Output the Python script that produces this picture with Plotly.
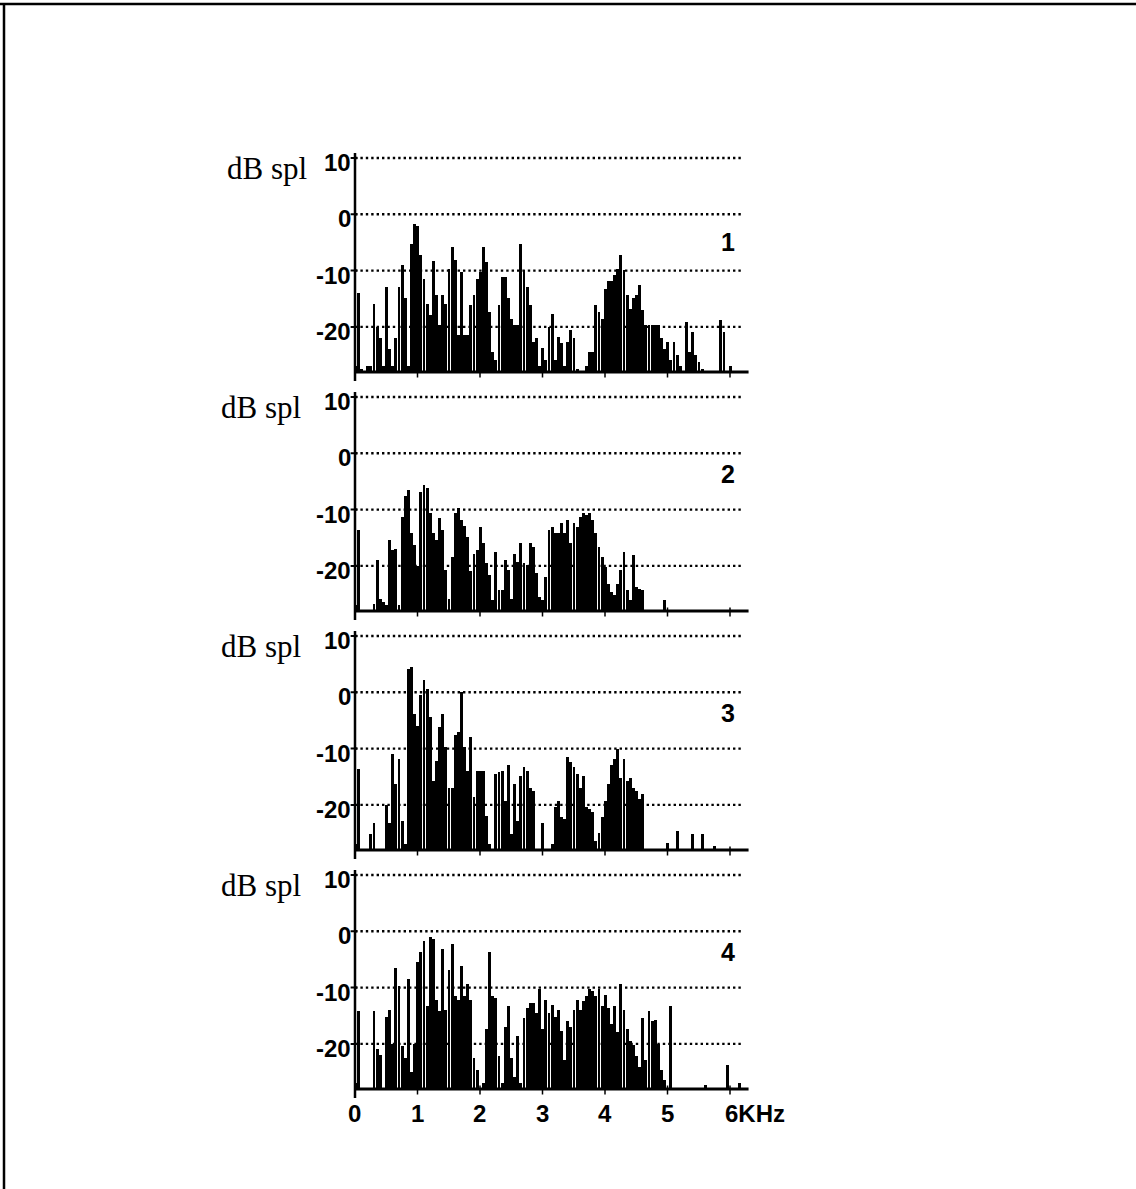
import plotly.graph_objects as go

# Frequency bins (kHz), 50 Hz apart, 0 .. 6.25 kHz
FREQ_KHZ = [round(0.05 * i, 2) for i in range(126)]

FLOOR_DB = -28

# Spectrum levels (dB spl) per bin for the four spectra
LEVEL_1 = [
    -27, -14, -27.5, -28, -27, -27, -16, -20, -22, -27,
    -13, -24, -27, -22, -13, -9, -15, -27, -5.3, -1.7,
    -2.2, -7.3, -11.5, -16, -18, -8.4, -14.4, -19.8, -14.4, -16,
    -9.7, -5.9, -8.2, -21.5, -10.3, -21.5, -21.5, -16.2, -14.4, -11.5,
    -10.3, -5.9, -8.5, -17.4, -24.5, -26, -16.2, -11.2, -11.2, -15,
    -18.6, -19.8, -19.8, -5.3, -10, -13, -16.2, -22.7, -22.1, -27,
    -23.9, -26, -20.1, -17.7, -26, -21.8, -23, -27, -22.7, -20.7,
    -22.1, -27.5, -28, -28, -27, -24.5, -24.5, -16.2, -17.4, -18.6,
    -13.3, -12, -12, -10.9, -9.7, -7.3, -10, -14.4, -16.8, -15,
    -14.4, -12.7, -17, -19.8, -19.8, -19.8, -19.8, -19.8, -22.1, -24,
    -22.7, -26, -22.7, -25, -27, -28, -19.2, -24.5, -21, -25,
    -26.3, -27.5, -28, -28, -28, -28, -28, -18.9, -21, -28,
    -27, -28, -28, -28, -28, -28,
]

LEVEL_2 = [
    -27, -13.6, -28, -28, -28, -28, -26.8, -19, -26, -26.5,
    -27, -15.5, -17.3, -17, -27, -11.3, -7.7, -6.5, -14.3, -16.4,
    -20, -7, -5.7, -6.3, -10.7, -14.3, -15.5, -11.6, -13.7, -20.8,
    -26, -18.5, -10.7, -9.8, -12, -13, -15, -21, -17.9, -17.3,
    -13.1, -16, -19.6, -21.7, -26.2, -17.6, -24.4, -24.4, -19, -20.8,
    -26, -17.9, -19.3, -16, -19.6, -19.9, -16, -16.7, -21.4, -25.6,
    -26.2, -22, -13.7, -13.1, -14.3, -14.3, -12.5, -14.3, -11.9, -16,
    -12.5, -13.1, -11.3, -10.7, -11, -10.7, -11.9, -14.3, -16.7, -18.5,
    -20.2, -23.2, -24.7, -25.3, -23.2, -20.8, -17.6, -24.4, -26.2, -18.2,
    -23.8, -24.1, -24.4, -28, -28, -28, -28, -28, -28, -26.2,
    -28, -28, -28, -28, -28, -28, -28, -28, -28, -28,
    -28, -28, -28, -28, -28, -28, -28, -28, -28, -28,
    -28, -28, -28, -28, -28, -28,
]

LEVEL_3 = [
    -27, -13.7, -28, -28, -28, -25.3, -23.2, -28, -28, -28,
    -20, -23.2, -11, -16.4, -11.9, -23, -27, 4, 4.5, -3.9,
    -6, -0.5, 2.2, 0.5, -4.5, -15.8, -12.2, -6.3, -3.9, -9.8,
    -17, -17, -7.7, -7.1, 0, -9.8, -14, -8, -18.7, -14,
    -14, -14, -22, -27, -28, -14.6, -14.3, -14, -19.3, -13,
    -25.3, -16.4, -23, -14.9, -13.4, -14, -17, -17.6, -28, -28,
    -23.2, -28, -28, -27, -20.5, -19.3, -22.3, -22.5, -11.6, -12.5,
    -13.4, -14.6, -17, -14.9, -20.5, -20.8, -21.4, -26.5, -25, -22.3,
    -19.3, -16.4, -13, -12, -10.1, -15.2, -11.9, -15.8, -15.2, -17,
    -17.6, -19, -18.2, -28, -28, -28, -28, -28, -28, -28,
    -26.8, -28, -28, -24.7, -28, -28, -28, -28, -25.3, -28,
    -28, -25.3, -28, -28, -28, -27.4, -28, -28, -28, -28,
    -28, -28, -28, -28, -28, -28,
]

LEVEL_4 = [
    -27, -14.3, -28, -28, -28, -28, -14.3, -21, -22, -28,
    -15.2, -14, -20, -6.5, -9.8, -20.5, -22.6, -8.6, -25, -20,
    -5.5, -3.8, -1.7, -13.4, -1.1, -1.5, -12.2, -14.3, -3.2, -14,
    -7, -2.3, -11.6, -12.2, -6.2, -11.6, -9.5, -12.2, -22.6, -24.7,
    -28, -27, -17.5, -3.8, -11.6, -12, -22.3, -27, -17, -13.4,
    -22.6, -25.9, -18.7, -27, -15.5, -13.7, -12.8, -12.8, -14.6, -10.4,
    -17.5, -12.2, -14.6, -13.1, -15.2, -14, -17.8, -22.9, -16, -17,
    -14, -12.2, -14, -12.5, -11.6, -10.4, -10.7, -11.6, -10.4, -13.4,
    -11.3, -13.7, -16.6, -13.4, -18, -9.5, -14, -17.5, -19.6, -20.2,
    -22.3, -24.1, -15.5, -22.9, -14.3, -16, -15.8, -20, -24.7, -26.5,
    -28, -13.4, -28, -28, -28, -28, -28, -28, -28, -28,
    -28, -28, -27.4, -28, -28, -28, -28, -28, -28, -23.8,
    -28, -28, -28, -27, -28, -28,
]

SPECTRA = [LEVEL_1, LEVEL_2, LEVEL_3, LEVEL_4]
PANEL_LABELS = ["1", "2", "3", "4"]
GRID_DB = [10, 0, -10, -20]
GRID_TEXT = ["10", "0", "-10", "-20"]
X_TICKS = [0, 1, 2, 3, 4, 5, 6]
X_TICK_TEXT = ["0", "1", "2", "3", "4", "5", "6KHz"]

W, H = 1136, 1189
X_RANGE = [-0.1, 6.3]
Y_RANGE = [-30, 11]
PX_PER_KHZ = 62.5
PX_PER_DB = 5.63
X0_PX = 355                       # pixel of 0 kHz
TOP10_PX = [158, 397, 636, 875]   # pixel of the +10 dB line in each panel

BOLD = "Liberation Sans, Arial, sans-serif"
SERIF = "Liberation Serif, Times New Roman, serif"

fig = go.Figure()
shapes = []
annotations = []

for k, levels in enumerate(SPECTRA):
    n = k + 1
    xa = "x" if n == 1 else f"x{n}"
    ya = "y" if n == 1 else f"y{n}"

    fig.add_trace(go.Bar(
        x=FREQ_KHZ,
        y=[v - FLOOR_DB for v in levels],
        base=FLOOR_DB,
        width=0.046,
        marker=dict(color="black", line=dict(width=0)),
        xaxis=xa, yaxis=ya, showlegend=False, hoverinfo="skip",
    ))

    # axis domains in pixels
    left_px = X0_PX + X_RANGE[0] * PX_PER_KHZ
    right_px = X0_PX + X_RANGE[1] * PX_PER_KHZ
    top_px = TOP10_PX[k] - (Y_RANGE[1] - 10) * PX_PER_DB
    bot_px = TOP10_PX[k] + (10 - Y_RANGE[0]) * PX_PER_DB
    xkey = "xaxis" if n == 1 else f"xaxis{n}"
    ykey = "yaxis" if n == 1 else f"yaxis{n}"
    fig.layout[xkey] = dict(domain=[left_px / W, right_px / W], range=X_RANGE,
                            anchor=ya, visible=False, fixedrange=True)
    fig.layout[ykey] = dict(domain=[1 - bot_px / H, 1 - top_px / H], range=Y_RANGE,
                            anchor=xa, visible=False, fixedrange=True)

    # dotted level lines
    for g in GRID_DB:
        shapes.append(dict(type="line", xref=xa, yref=ya, x0=0, x1=6.22, y0=g, y1=g,
                           line=dict(color="black", width=2.4, dash="2.4px,3px"), layer="above"))
        shapes.append(dict(type="line", xref=xa, yref=ya, x0=-0.07, x1=0.04, y0=g, y1=g,
                           line=dict(color="black", width=2)))
    # vertical dB axis
    shapes.append(dict(type="line", xref=xa, yref=ya, x0=0, x1=0, y0=-29.6, y1=10.9,
                       line=dict(color="black", width=2.5)))
    # frequency baseline
    shapes.append(dict(type="line", xref=xa, yref=ya, x0=0, x1=6.3, y0=FLOOR_DB, y1=FLOOR_DB,
                       line=dict(color="black", width=3)))
    # kHz ticks
    for t in X_TICKS[1:]:
        shapes.append(dict(type="line", xref=xa, yref=ya, x0=t, x1=t,
                           y0=FLOOR_DB - 1.0, y1=FLOOR_DB + 0.6,
                           line=dict(color="black", width=1.5)))

    # dB tick labels
    for g, txt in zip(GRID_DB, GRID_TEXT):
        annotations.append(dict(xref=xa, yref=ya, x=0, y=g - 0.8, text=txt, showarrow=False,
                                xanchor="right", yanchor="middle", xshift=-2,
                                font=dict(family=BOLD, size=24, color="black", weight="bold")))
    annotations.append(dict(xref=xa, yref=ya, x=0, y=8.2, text="dB spl", showarrow=False,
                            xanchor="right", yanchor="middle", xshift=-46 if n == 1 else -52,
                            font=dict(family=SERIF, size=31, color="black")))
    annotations.append(dict(xref=xa, yref=ya, x=5.97, y=-5 if n == 1 else -3.7,
                            text=PANEL_LABELS[k],
                            showarrow=False, xanchor="center", yanchor="middle",
                            font=dict(family=BOLD, size=25, color="black", weight="bold")))

# kHz labels under the last panel
for t, txt in zip(X_TICKS, X_TICK_TEXT):
    annotations.append(dict(xref="x4", yref="y4", x=t, y=FLOOR_DB - 1.6, text=txt,
                            showarrow=False, yanchor="top",
                            xanchor="center" if t < 6 else "left",
                            xshift=0 if t < 6 else -7,
                            font=dict(family=BOLD, size=24, color="black", weight="bold")))

# page frame: top rule and left rule
shapes.append(dict(type="line", xref="paper", yref="paper", x0=0, x1=1,
                   y0=1 - 4 / H, y1=1 - 4 / H, line=dict(color="black", width=2.5)))
shapes.append(dict(type="line", xref="paper", yref="paper", x0=4 / W, x1=4 / W,
                   y0=0, y1=1 - 4 / H, line=dict(color="black", width=2.5)))

fig.update_layout(
    width=W, height=H,
    margin=dict(l=0, r=0, t=0, b=0),
    paper_bgcolor="white", plot_bgcolor="rgba(0,0,0,0)",
    bargap=0, shapes=shapes, annotations=annotations,
)

fig.write_html("out.html", config={"displayModeBar": False})
